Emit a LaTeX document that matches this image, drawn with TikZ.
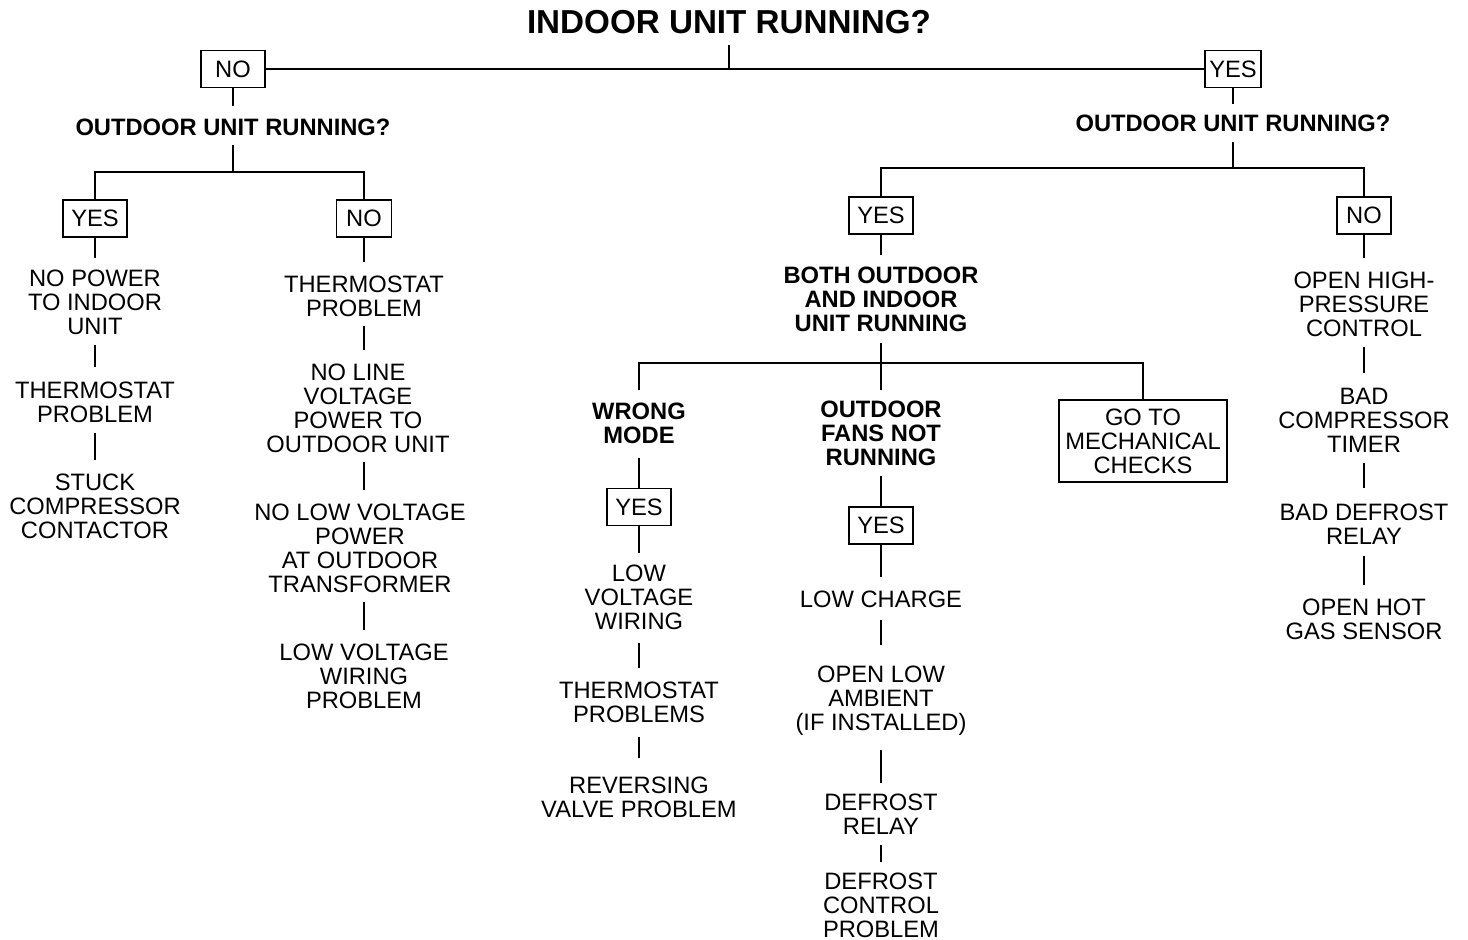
\documentclass[tikz,border=0pt]{standalone}
\usepackage{fontspec}
\setmainfont{Liberation Sans}

\begin{document}
\begin{tikzpicture}[x=0.02cm, y=-0.02cm,
    bar/.style={line width=1.4pt},
    lk/.style={bar, shorten <=0.2cm, shorten >=0.27cm},
    bx/.style={bar, shorten >=0.24cm},
    txt/.style={align=center, inner sep=0pt, font=\fontsize{13.5}{13.66}\selectfont},
    ask/.style={txt, font=\fontsize{13.5}{13.66}\selectfont\bfseries},
    box/.style={draw, line width=0.7pt, inner sep=0pt, align=center, minimum width=1.28cm, minimum height=0.74cm, font=\fontsize{13.5}{13.66}\selectfont}]
    \useasboundingbox (0,0) rectangle (1468,940);

    \node[ask, font=\fontsize{18.9}{20}\selectfont\bfseries] (title) at (729,22) {INDOOR UNIT RUNNING?};
    \node[box] (no1) at (233,69) {NO};
    \node[box, minimum width=1.12cm] (yes1) at (1233,69) {YES};
    \coordinate (j0) at (729,69);
    \draw[bar] (no1) -- (yes1);
    \draw[bar, shorten <=0.22cm] (title) -- (j0);

    \node[ask] (q1) at (233,127) {OUTDOOR UNIT RUNNING?};
    \coordinate (j1) at (233,172);
    \node[box] (yesA) at (95,218.5) {YES};
    \node[box, minimum width=1.1cm] (noA) at (364,218.5) {NO};
    \draw[bar, shorten >=0.25cm] (no1) -- (q1);
    \draw[bar, shorten <=0.19cm] (q1) -- (j1);
    \draw[bar] (yesA) |- (j1) -| (noA);

    \node[txt] (a1) at (95,302) {NO POWER\\TO INDOOR\\UNIT};
    \node[txt] (a2) at (95,402) {THERMOSTAT\\PROBLEM};
    \node[txt] (a3) at (95,506) {STUCK\\COMPRESSOR\\CONTACTOR};
    \draw[bx, shorten >=0.23cm] (yesA) -- (a1);
    \draw[lk, shorten <=0.21cm, shorten >=0.29cm] (a1) -- (a2);
    \draw[lk, shorten <=0.21cm] (a2) -- (a3);

    \node[txt] (b1) at (364,296) {THERMOSTAT\\PROBLEM};
    \node[txt] (b2) at (358,408) {NO LINE\\VOLTAGE\\POWER TO\\OUTDOOR UNIT};
    \node[txt] (b3) at (360,548) {NO LOW VOLTAGE\\POWER\\AT OUTDOOR\\TRANSFORMER};
    \node[txt] (b4) at (364,676) {LOW VOLTAGE\\WIRING\\PROBLEM};
    \draw[bx, shorten >=0.27cm] (noA) -- (b1);
    \draw[lk, shorten <=0.19cm] (b1) -- (b1 |- b2.north);
    \draw[lk, shorten <=0.19cm] (b2.south -| b1) -- (b3.north -| b1);
    \draw[lk, shorten <=0.19cm] (b3.south -| b4) -- (b4);

    \node[ask] (q2) at (1233,123) {OUTDOOR UNIT RUNNING?};
    \coordinate (j2) at (1233,168);
    \node[box] (yesB) at (881,215.5) {YES};
    \node[box, minimum width=1.08cm] (noB) at (1364,215.5) {NO};
    \draw[bar, shorten >=0.21cm] (yes1) -- (q2);
    \draw[bar, shorten <=0.21cm] (q2) -- (j2);
    \draw[bar] (yesB) |- (j2) -| (noB);

    \node[ask] (both) at (881,299) {BOTH OUTDOOR\\AND INDOOR\\UNIT RUNNING};
    \coordinate (j3) at (881,363);
    \node[ask] (wm) at (639,423) {WRONG\\MODE};
    \node[ask] (fans) at (881,433) {OUTDOOR\\FANS NOT\\RUNNING};
    \node[box, minimum width=3.36cm, minimum height=1.64cm] (mech) at (1143,441) {GO TO\\MECHANICAL\\CHECKS};
    \draw[bx, shorten >=0.23cm] (yesB) -- (both);
    \draw[bar, shorten <=0.23cm, shorten >=0.21cm] (both) -- (fans);
    \draw[bar, shorten <=0.25cm] (wm) |- (j3) -| (mech);

    \node[box] (yesW) at (639,507) {YES};
    \node[txt] (d1) at (639,597) {LOW\\VOLTAGE\\WIRING};
    \node[txt] (d2) at (639,702) {THERMOSTAT\\PROBLEMS};
    \node[txt] (d3) at (639,797) {REVERSING\\VALVE PROBLEM};
    \draw[bar, shorten <=0.29cm] (wm) -- (yesW);
    \draw[bx, shorten >=0.23cm] (yesW) -- (d1);
    \draw[lk, shorten <=0.27cm] (d1) -- (d2);
    \draw[lk, shorten <=0.29cm, shorten >=0.37cm] (d2) -- (d3);

    \node[box] (yesF) at (881,525.5) {YES};
    \node[txt] (e1) at (881,599) {LOW CHARGE};
    \node[txt] (e2) at (881,701) {OPEN LOW\\AMBIENT\\(IF INSTALLED)};
    \node[txt] (e3) at (881,814) {DEFROST\\RELAY};
    \node[txt] (e4) at (881,905) {DEFROST\\CONTROL\\PROBLEM};
    \draw[bar, shorten <=0.21cm] (fans) -- (yesF);
    \draw[bx, shorten >=0.27cm] (yesF) -- (e1);
    \draw[lk, shorten <=0.25cm, shorten >=0.41cm] (e1) -- (e2);
    \draw[lk, shorten <=0.27cm, shorten >=0.21cm] (e2) -- (e3);
    \draw[lk, shorten <=0.21cm, shorten >=0.21cm] (e3) -- (e4);

    \node[txt] (f1) at (1364,304) {OPEN HIGH-\\PRESSURE\\CONTROL};
    \node[txt] (f2) at (1364,420) {BAD\\COMPRESSOR\\TIMER};
    \node[txt] (f3) at (1364,524) {BAD DEFROST\\RELAY};
    \node[txt] (f4) at (1364,619) {OPEN HOT\\GAS SENSOR};
    \draw[bx, shorten >=0.27cm] (noB) -- (f1);
    \draw[lk, shorten <=0.21cm, shorten >=0.29cm] (f1) -- (f2);
    \draw[lk, shorten <=0.21cm, shorten >=0.31cm] (f2) -- (f3);
    \draw[lk, shorten <=0.23cm] (f3) -- (f4);
\end{tikzpicture}
\end{document}
